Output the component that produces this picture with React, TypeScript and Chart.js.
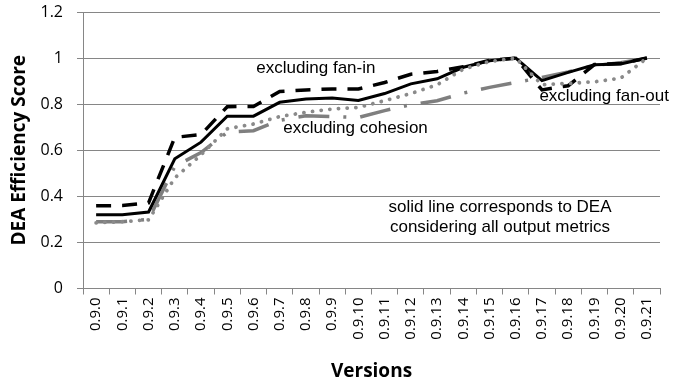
import React, { useEffect, useRef } from "react";
import { Chart, registerables } from "chart.js";

Chart.register(...registerables);

const versions = [
  "0.9.0", "0.9.1", "0.9.2", "0.9.3", "0.9.4", "0.9.5", "0.9.6", "0.9.7",
  "0.9.8", "0.9.9", "0.9.10", "0.9.11", "0.9.12", "0.9.13", "0.9.14", "0.9.15",
  "0.9.16", "0.9.17", "0.9.18", "0.9.19", "0.9.20", "0.9.21",
];

const allMetrics = [
  0.32, 0.32, 0.332, 0.563, 0.635, 0.748, 0.748, 0.808, 0.822, 0.827, 0.816,
  0.846, 0.888, 0.91, 0.96, 0.988, 1.0, 0.902, 0.938, 0.971, 0.974, 1.0,
];

const excludingFanIn = [
  0.359, 0.36, 0.372, 0.656, 0.668, 0.789, 0.79, 0.855, 0.862, 0.866, 0.866,
  0.894, 0.93, 0.942, 0.962, 0.99, 1.0, 0.862, 0.88, 0.972, 0.976, 1.0,
];

const excludingCohesion = [
  0.29, 0.29, 0.3, 0.53, 0.59, 0.678, 0.685, 0.73, 0.75, 0.746, 0.742,
  0.772, 0.798, 0.815, 0.848, 0.873, 0.894, 0.916, 0.94, 0.968, 0.98, 1.0,
];

const excludingFanOut = [
  0.285, 0.29, 0.298, 0.48, 0.58, 0.693, 0.714, 0.746, 0.765, 0.779, 0.786,
  0.815, 0.846, 0.884, 0.952, 0.985, 1.0, 0.884, 0.89, 0.897, 0.913, 1.0,
];

const yTickValues = [0, 0.2, 0.4, 0.6, 0.8, 1, 1.2];

const noteTexts = [
  "excluding fan-in",
  "excluding cohesion",
  "excluding fan-out",
  "solid line corresponds to DEA",
  "considering all output metrics",
];
// anchor of each note in data units: [version index, score]
const noteAnchors = [
  [8.38, 0.954],
  [9.89, 0.694],
  [19.37, 0.832],
  [15.4, 0.352],
  [15.4, 0.265],
];

const notesPlugin = {
  id: "notes",
  afterDatasetsDraw(chart: any) {
    const { ctx, scales } = chart;
    ctx.save();
    ctx.fillStyle = "#000000";
    ctx.font = "17px 'Liberation Sans', Arial, sans-serif";
    ctx.textAlign = "center";
    ctx.textBaseline = "middle";
    noteTexts.forEach((t, i) => {
      const x = scales.x.getPixelForValue(noteAnchors[i][0]);
      const y = scales.y.getPixelForValue(noteAnchors[i][1]);
      ctx.fillText(t, x, y);
    });
    ctx.restore();
  },
};

export default function App() {
  const ref = useRef<HTMLCanvasElement | null>(null);

  useEffect(() => {
    if (!ref.current) return;
    const axisGray = "#868686";
    const chart = new Chart(ref.current, {
      type: "line",
      data: {
        labels: versions,
        datasets: [
          {
            label: "excluding fan-out",
            data: excludingFanOut,
            borderColor: "#8a8a8a",
            borderWidth: 3.8,
            borderDash: [0.1, 8.6],
            borderCapStyle: "round",
            pointRadius: 0,
            order: 1,
          },
          {
            label: "all output metrics",
            data: allMetrics,
            borderColor: "#000000",
            borderWidth: 3,
            pointRadius: 0,
            order: 2,
          },
          {
            label: "excluding fan-in",
            data: excludingFanIn,
            borderColor: "#000000",
            borderWidth: 3.5,
            borderDash: [15, 11],
            pointRadius: 0,
            order: 3,
          },
          {
            label: "excluding cohesion",
            data: excludingCohesion,
            borderColor: "#7f7f7f",
            borderWidth: 3.5,
            borderDash: [31, 14, 3, 14],
            pointRadius: 0,
            order: 4,
          },
        ],
      },
      options: {
        animation: false,
        responsive: false,
        devicePixelRatio: 1,
        layout: { padding: { top: 12, right: 14, left: 0, bottom: 0 } },
        plugins: {
          legend: { display: false },
          tooltip: { enabled: false },
        },
        elements: { line: { tension: 0 } },
        scales: {
          x: {
            type: "category",
            offset: true,
            grid: {
              offset: true,
              drawOnChartArea: false,
              drawTicks: true,
              tickLength: 6,
              color: axisGray,
            },
            border: { color: axisGray, width: 1 },
            ticks: {
              autoSkip: false,
              minRotation: 90,
              maxRotation: 90,
              padding: 3,
              color: "#000000",
              font: { family: "'Open Sans', sans-serif", size: 15 },
            },
            title: {
              display: true,
              text: "Versions",
              color: "#000000",
              font: { family: "'Open Sans', sans-serif", size: 19, weight: "bold" },
              padding: { top: 0, bottom: 0 },
            },
            afterFit(scale: any) {
              scale.height = 94.5;
            },
          },
          y: {
            min: 0,
            max: 1.2,
            afterBuildTicks(scale: any) {
              scale.ticks = yTickValues.map((v) => ({ value: v }));
            },
            grid: {
              color: axisGray,
              drawTicks: true,
              tickLength: 6,
            },
            border: { color: axisGray, width: 1 },
            ticks: {
              padding: 14,
              color: "#000000",
              font: { family: "'Open Sans', sans-serif", size: 16 },
              callback: (v: any) => String(Number(Number(v).toFixed(1))),
            },
            title: {
              display: true,
              text: "DEA Efficiency Score",
              color: "#000000",
              font: { family: "'Open Sans', sans-serif", size: 19, weight: "bold" },
              padding: { top: 8, bottom: 0 },
            },
            afterFit(scale: any) {
              scale.width = 83;
              scale.paddingTop = 10;
              scale.paddingBottom = 10;
            },
          },
        },
      },
      plugins: [notesPlugin],
    });
    return () => chart.destroy();
  }, []);

  return (
    <canvas
      ref={ref}
      width={674}
      height={383}
      style={{ position: "absolute", left: 0, top: 0, width: "674px", height: "383px" }}
    />
  );
}
